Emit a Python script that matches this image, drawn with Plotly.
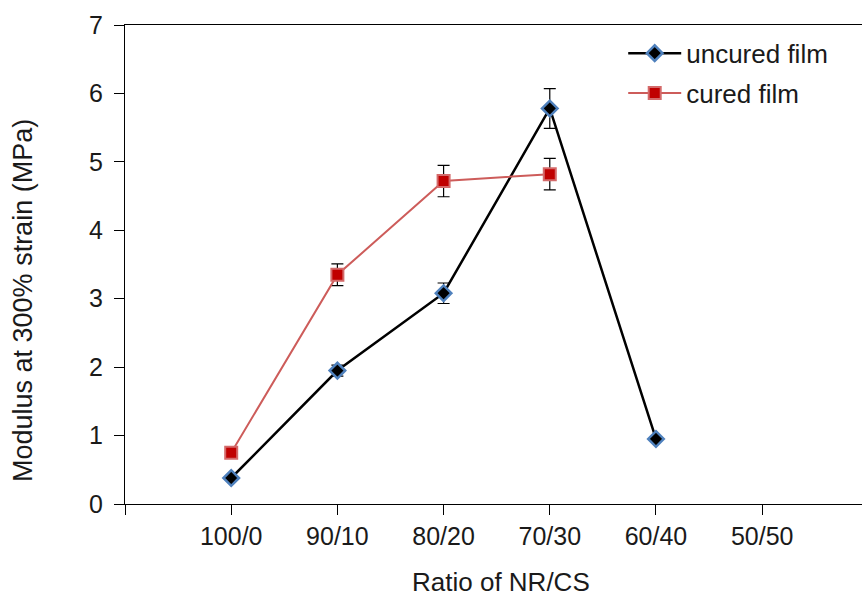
import plotly.graph_objects as go

categories = ["", "100/0", "90/10", "80/20", "70/30", "60/40", "50/50"]
uncured_x = ["100/0", "90/10", "80/20", "70/30", "60/40"]
uncured_y = [0.38, 1.95, 3.08, 5.78, 0.95]
uncured_err = [0.03, 0.08, 0.15, 0.29, 0.03]
cured_x = ["100/0", "90/10", "80/20", "70/30"]
cured_y = [0.75, 3.35, 4.72, 4.82]
cured_err = [0.03, 0.16, 0.23, 0.23]
x_title = "Ratio of NR/CS"
y_title = "Modulus at 300% strain (MPa)"

pos = {c: i for i, c in enumerate(categories)}

fig = go.Figure()
fig.add_trace(go.Scatter(
    x=[pos[c] for c in uncured_x], y=uncured_y, name="uncured film",
    mode="lines+markers",
    line=dict(color="black", width=2.5),
    marker=dict(symbol="diamond", size=12, color="black",
                line=dict(color="#4F81BD", width=2.5)),
    error_y=dict(type="data", array=uncured_err, color="black", thickness=1.2, width=6),
    legendgroup="a",
))
fig.add_trace(go.Scatter(
    x=[pos[c] for c in cured_x], y=cured_y, name="cured film",
    mode="lines+markers",
    line=dict(color="#CD5C5A", width=2),
    marker=dict(symbol="square", size=12, color="#C00000",
                line=dict(color="#D46A6A", width=2)),
    error_y=dict(type="data", array=cured_err, color="black", thickness=1.2, width=6),
    legendgroup="b",
))

fam = "Liberation Sans, Arial, sans-serif"
txt = "#1a1a1a"
L, R, T, B, W, H = 125, 0, 25, 95, 862, 599
pw, ph = W - L - R, H - T - B

fig.update_layout(
    width=W, height=H,
    margin=dict(l=L, r=R, t=T, b=B, autoexpand=False),
    plot_bgcolor="white", paper_bgcolor="white",
    font=dict(family=fam, size=25, color=txt),
    showlegend=True,
    legend=dict(x=0.676, y=0.99, xanchor="left", yanchor="top",
                bgcolor="rgba(0,0,0,0)", font=dict(size=26, family=fam, color=txt),
                itemwidth=53, tracegroupgap=3, traceorder="grouped"),
    xaxis=dict(range=[0, 6.94], tickmode="array", automargin=False,
               tickvals=list(range(len(categories))), ticktext=categories,
               tickfont=dict(size=25, family=fam, color=txt),
               showgrid=False, zeroline=False, showline=True, linecolor="black",
               linewidth=1.3, mirror=True, ticks="outside", ticklen=10,
               tickcolor="black", ticklabelstandoff=0),
    yaxis=dict(range=[0, 7], dtick=1, showgrid=False, zeroline=False,
               automargin=False,
               showline=True, linecolor="black", linewidth=1.3,
               ticks="outside", ticklen=10, tickcolor="black",
               tickfont=dict(size=25, family=fam, color=txt),
               ticklabelstandoff=6),
    annotations=[
        dict(text=x_title, xref="paper", yref="paper",
             x=(501 - L) / pw, y=-(582 - (T + ph)) / ph,
             xanchor="center", yanchor="middle", showarrow=False,
             font=dict(size=26, family=fam, color=txt)),
        dict(text=y_title, xref="paper", yref="paper", textangle=-90,
             x=(23 - L) / pw, y=((T + ph) - 301) / ph,
             xanchor="center", yanchor="middle", showarrow=False,
             font=dict(size=27, family=fam, color=txt)),
    ],
)
fig.write_html("out.html")
